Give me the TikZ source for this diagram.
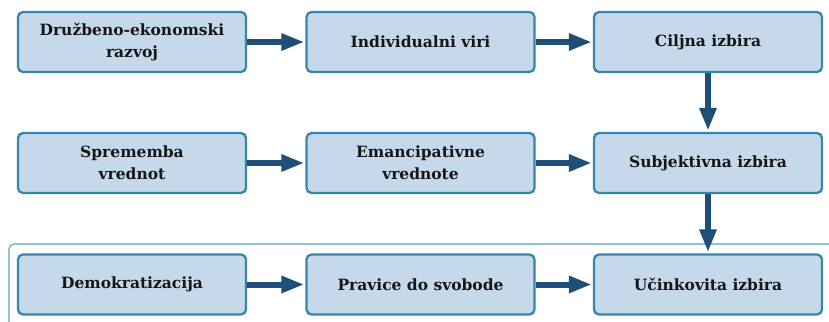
\documentclass[tikz,border=0pt]{standalone}
\usepackage{fontspec}
\setmainfont{DejaVu Serif}
\usetikzlibrary{arrows.meta}
\definecolor{boxfill}{HTML}{C5D9EA}
\definecolor{boxline}{HTML}{3585AD}
\definecolor{arrowc}{HTML}{1F4E79}
\definecolor{framec}{HTML}{5A9FC0}
\definecolor{txt}{HTML}{161616}
\begin{document}
\begin{tikzpicture}[x=1pt,y=-1pt,
  stepbox/.style={draw=boxline, line width=2.3pt, fill=boxfill, rounded corners=5pt,
    minimum width=228pt, minimum height=60pt, align=center, inner sep=0pt,
    font=\fontsize{15.5}{22}\selectfont\bfseries, text=txt},
  flow/.style={draw=arrowc, line width=6pt, -{Triangle[length=23pt,width=16pt]}, shorten >=1pt}]
\useasboundingbox (0,0) rectangle (829,321);
\begin{scope}
\clip (0,0) rectangle (829,321);
\draw[framec, line width=1.1pt, rounded corners=5pt] (840,244) -- (9,244) -- (9,340);
\end{scope}
\node[stepbox] (a1) at (132,42) {Družbeno-ekonomski\\razvoj};
\node[stepbox] (a2) at (420.5,42) {Individualni viri};
\node[stepbox] (a3) at (708,42) {Ciljna izbira};
\node[stepbox] (b1) at (132,163) {Sprememba\\vrednot};
\node[stepbox] (b2) at (420.5,163) {Emancipativne\\vrednote};
\node[stepbox] (b3) at (708,163) {Subjektivna izbira};
\node[stepbox] (c1) at (132,284.5) {Demokratizacija};
\node[stepbox] (c2) at (420.5,284.5) {Pravice do svobode};
\node[stepbox] (c3) at (708,284.5) {Učinkovita izbira};
\draw[flow] (a1) -- (a2);
\draw[flow] (a2) -- (a3);
\draw[flow] (b1) -- (b2);
\draw[flow] (b2) -- (b3);
\draw[flow] (c1) -- (c2);
\draw[flow] (c2) -- (c3);
\draw[flow] (a3) -- (b3);
\draw[flow] (b3) -- (c3);
\end{tikzpicture}
\end{document}
